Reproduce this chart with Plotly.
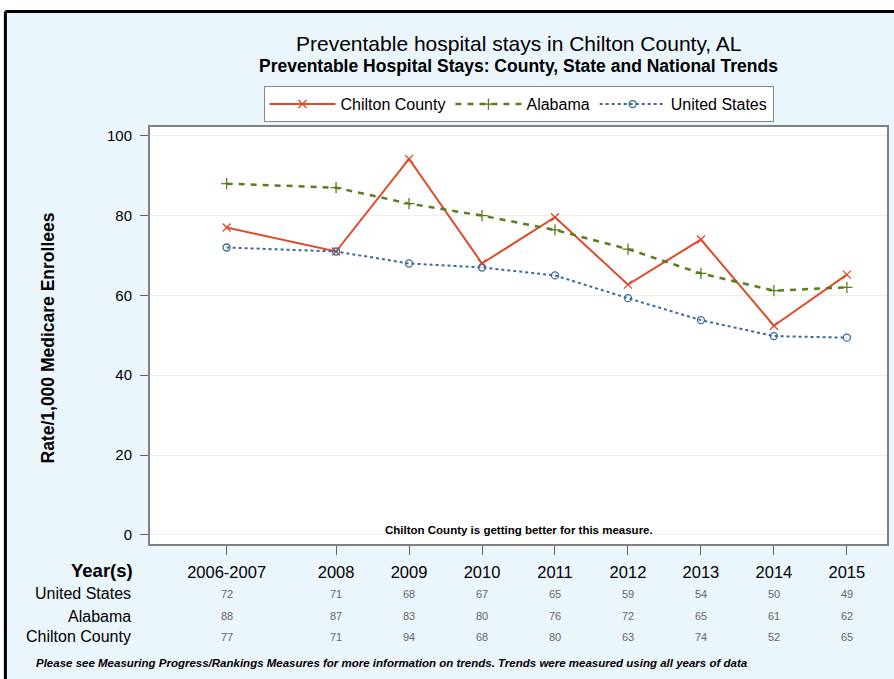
import plotly.graph_objects as go

years = [2006.5, 2008, 2009, 2010, 2011, 2012, 2013, 2014, 2015]
year_labels = ["2006-2007", "2008", "2009", "2010", "2011", "2012", "2013", "2014", "2015"]

# plotted rates
chilton = [77, 71, 94.2, 68, 79.6, 62.7, 74, 52.4, 65.2]
alabama = [88, 87, 83, 80, 76.4, 71.6, 65.5, 61.2, 62]
us = [72, 71, 68, 67, 65, 59.3, 53.8, 49.8, 49.4]

# rounded values printed in the table under the chart
table_rows = ["United States", "Alabama", "Chilton County"]
table_us = [72, 71, 68, 67, 65, 59, 54, 50, 49]
table_al = [88, 87, 83, 80, 76, 72, 65, 61, 62]
table_ch = [77, 71, 94, 68, 80, 63, 74, 52, 65]

FONT = "Liberation Sans, Arial, sans-serif"
NARROW = "Liberation Sans Narrow, Liberation Sans, Arial, sans-serif"

fig = go.Figure()
fig.add_trace(go.Scatter(
    x=years, y=chilton, name="Chilton County", mode="lines+markers",
    line=dict(color="#E04A28", width=2),
    marker=dict(symbol="x-thin", size=8, line=dict(color="#E04A28", width=1.3)),
))
fig.add_trace(go.Scatter(
    x=years, y=alabama, name="Alabama", mode="lines+markers",
    line=dict(color="#5A7D1E", width=2.5, dash="6px,6px"),
    marker=dict(symbol="cross-thin", size=8, line=dict(color="#5A7D1E", width=1.3)),
))
fig.add_trace(go.Scatter(
    x=years, y=us, name="United States", mode="lines+markers",
    line=dict(color="#3A6A9A", width=2, dash="dot"),
    marker=dict(symbol="circle-open", size=7, color="#3A6A9A", line=dict(width=1.3)),
))

annotations = [
    dict(text="Preventable hospital stays in Chilton County, AL", x=0.5, y=1.2014,
         font=dict(size=21, color="#000")),
    dict(text="<b>Preventable Hospital Stays: County, State and National Trends</b>", x=0.5, y=1.1463,
         font=dict(size=17.5, color="#000")),
    dict(text="<b>Rate/1,000 Medicare Enrollees</b>", x=-0.154, y=0.494, textangle=-90,
         font=dict(size=17.5, color="#000")),
    dict(text="<b>Chilton County is getting better for this measure.</b>", x=0.5, y=0.034,
         font=dict(size=11.5, color="#000")),
    dict(text="<b>Year(s)</b>", x=-0.02, y=-0.0624, xanchor="right",
         font=dict(size=18.5, color="#000")),
    dict(text="<b><i>Please see Measuring Progress/Rankings Measures for more information on trends. "
              "Trends were measured using all years of data</i></b>",
         x=-0.157, y=-0.2854, xanchor="left", font=dict(size=11.5, color="#000")),
]
row_y = [-0.1199, -0.1727, -0.2230]
for label, vals, ry in zip(table_rows, [table_us, table_al, table_ch], row_y):
    annotations.append(dict(text=label, x=-0.023, y=ry, xanchor="right",
                            font=dict(size=16, color="#000")))
    for xv, v in zip(years, vals):
        annotations.append(dict(text=str(v), x=xv, xref="x", y=ry,
                                font=dict(size=11, color="#666", family=NARROW)))
for a in annotations:
    a.setdefault("xref", "paper")
    a["yref"] = "paper"
    a["showarrow"] = False
    a.setdefault("yanchor", "middle")

shapes = [
    # white margin and black frame at the top and left of the picture
    dict(type="rect", xref="paper", yref="paper", x0=-0.25, x1=1.05, y0=1.279, y1=1.35,
         fillcolor="white", line=dict(width=0), layer="above"),
    dict(type="rect", xref="paper", yref="paper", x0=-0.25, x1=-0.1989, y0=-0.4, y1=1.35,
         fillcolor="white", line=dict(width=0), layer="above"),
    dict(type="line", xref="paper", yref="paper", x0=-0.1962, x1=1.05, y0=1.277, y1=1.277,
         line=dict(color="black", width=3), layer="above"),
    dict(type="line", xref="paper", yref="paper", x0=-0.1962, x1=-0.1962, y0=-0.4, y1=1.277,
         line=dict(color="black", width=3), layer="above"),
]

fig.update_layout(
    width=894, height=679,
    margin=dict(l=150, r=5, t=127, b=135),
    paper_bgcolor="#EBF5FC", plot_bgcolor="white",
    font=dict(family=FONT, color="#000"),
    showlegend=True,
    legend=dict(orientation="h", x=0.5, xanchor="center", y=1.098, yanchor="top",
                bgcolor="white", bordercolor="#888", borderwidth=1,
                font=dict(size=16), itemwidth=66),
    annotations=annotations, shapes=shapes,
)
fig.update_xaxes(range=[2005.45, 2015.55], tickvals=years, ticktext=year_labels,
                 showgrid=False, zeroline=False, showline=True, mirror=True,
                 linecolor="#808080", linewidth=2, ticks="outside", ticklen=9,
                 tickcolor="#666", tickfont=dict(size=16.5), ticklabelstandoff=3)
fig.update_yaxes(range=[-2.3, 102.2], tickvals=[0, 20, 40, 60, 80, 100],
                 showgrid=True, gridcolor="#EFEFE2", gridwidth=1.3, zeroline=False,
                 showline=True, mirror=True, linecolor="#808080", linewidth=2,
                 ticks="outside", ticklen=8, tickcolor="#666", tickfont=dict(size=15),
                 ticklabelstandoff=5)

fig.write_html("out.html", config={"displayModeBar": False},
               post_script="document.body.style.margin='0';")
